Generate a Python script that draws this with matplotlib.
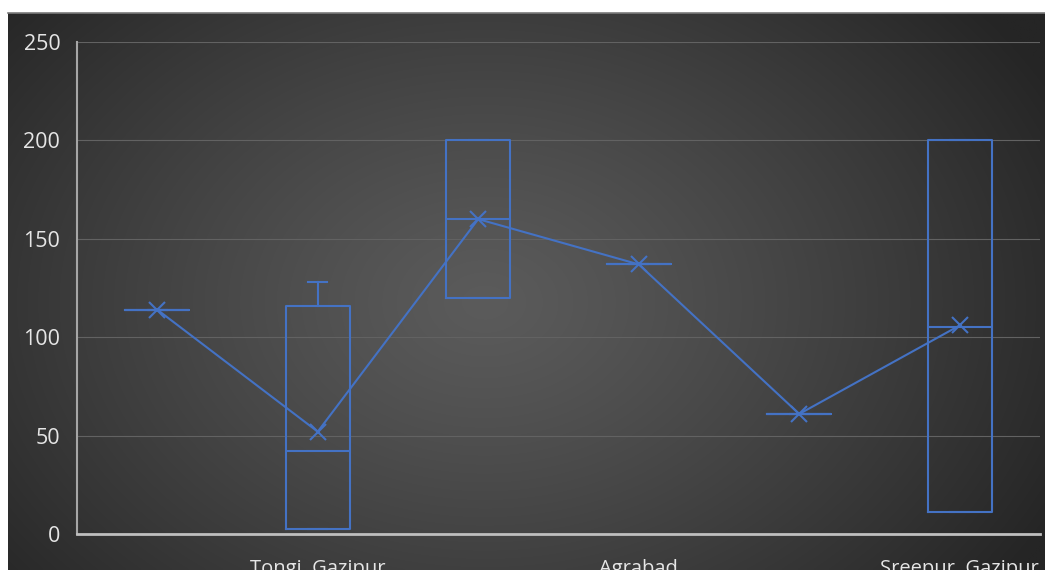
import numpy as np
import matplotlib
matplotlib.use('Agg')
import matplotlib.pyplot as plt

# Five-number summaries per site (values in the chart's units)
sites = ['Site 1', 'Tongi, Gazipur', 'Site 3', 'Agrabad', 'Site 5', 'Sreepur, Gazipur']
shown_labels = ['', 'Tongi, Gazipur', '', 'Agrabad', '', 'Sreepur, Gazipur']
q1 = [114, 2.5, 120, 137, 61, 11]
median = [114, 42, 160, 137, 61, 105]
q3 = [114, 116, 200, 137, 61, 200]
whisker_low = [114, 2.5, 120, 137, 61, 11]
whisker_high = [114, 128, 200, 137, 61, 200]
mean = [114, 52, 160, 137, 61, 106]

BLUE = '#4472C4'
W, H = 1045, 570

fig = plt.figure(figsize=(W / 100, H / 100), dpi=100)
fig.patch.set_facecolor('white')

# dark panel with a soft radial highlight
bg = fig.add_axes([8 / W, 0, 1 - 8 / W, 1 - 13 / H])
bg.set_axis_off()
nx, ny = 400, 220
xx, yy = np.meshgrid(np.linspace(0, 1, nx), np.linspace(0, 1, ny))
r = np.sqrt(((xx - 0.46) / 0.62) ** 2 + ((yy - 0.52) / 0.85) ** 2)
shade = 0x5b - (0x5b - 0x25) * np.clip(r, 0, 1) ** 1.2
img = np.dstack([shade, shade, shade]) / 255.0
bg.imshow(img, aspect='auto', extent=[0, 1, 0, 1], interpolation='bilinear')
bg.set_xlim(0, 1)
bg.set_ylim(0, 1)
bg.plot([0, 1], [1, 1], color='#7a7a7a', lw=1.2, transform=bg.transAxes, clip_on=False)

ax = fig.add_axes([77 / W, (H - 534) / H, (1040 - 77) / W, (534 - 42) / H])
ax.patch.set_alpha(0)

stats = []
for i in range(len(sites)):
    stats.append({
        'label': shown_labels[i],
        'q1': q1[i], 'med': median[i], 'q3': q3[i],
        'whislo': whisker_low[i], 'whishi': whisker_high[i],
        'fliers': [],
    })

pos = np.arange(len(sites))
ax.bxp(stats, positions=pos, widths=0.4, showfliers=False,
       boxprops=dict(color=BLUE, lw=1.5),
       medianprops=dict(color=BLUE, lw=1.5),
       whiskerprops=dict(color=BLUE, lw=1.5),
       capprops=dict(color=BLUE, lw=1.5),
       capwidths=0.12, zorder=3)

ax.plot(pos, mean, color=BLUE, lw=1.5, marker='x', markersize=11,
        markeredgewidth=1.5, zorder=4)

ax.set_xlim(-0.5, len(sites) - 0.5)
ax.set_ylim(0, 250)
ax.set_yticks([0, 50, 100, 150, 200, 250])
ax.set_xticks(pos)
ax.set_xticklabels(shown_labels)

ax.grid(axis='y', color='#626262', lw=0.8, zorder=0)
ax.set_axisbelow(True)
for side in ['top', 'right']:
    ax.spines[side].set_visible(False)
ax.spines['left'].set_color('#a6a6a6')
ax.spines['bottom'].set_color('#bfbfbf')
ax.spines['left'].set_linewidth(1.5)
ax.spines['bottom'].set_linewidth(2)

ax.tick_params(axis='both', length=0, colors='#e6e6e6')
ax.tick_params(axis='y', pad=12, labelsize=15.5)
ax.tick_params(axis='x', pad=18, labelsize=14.5)
for lab in ax.get_xticklabels() + ax.get_yticklabels():
    lab.set_fontfamily('Open Sans')

fig.savefig('out.png', dpi=100)
